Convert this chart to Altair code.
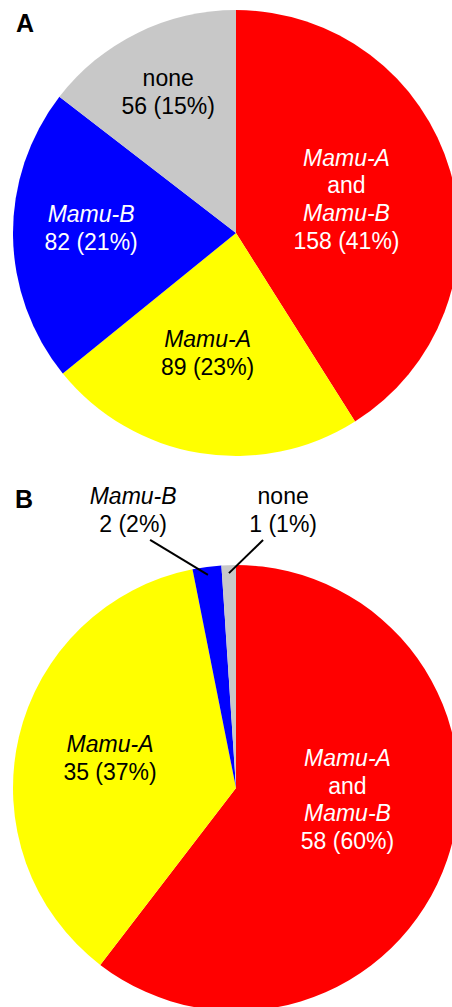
import math

import altair as alt
import pandas as pd

# Response groups, in the order the slices run clockwise from 12 o'clock
groups = ["Mamu-A and Mamu-B", "Mamu-A", "Mamu-B", "none"]
colors = ["#ff0000", "#ffff00", "#0000ff", "#c8c8c8"]

# Panel A
a_counts = [158, 89, 82, 56]
a_pcts = [41, 23, 21, 15]

# Panel B
b_counts = [58, 35, 2, 1]
b_pcts = [60, 37, 2, 1]

# Label wording: (text, font style) for each line above the count line
name_lines = {
    "Mamu-A and Mamu-B": [("Mamu-A", "italic"), ("and", "normal"), ("Mamu-B", "italic")],
    "Mamu-A": [("Mamu-A", "italic")],
    "Mamu-B": [("Mamu-B", "italic")],
    "none": [("none", "normal")],
}

# ---- layout -------------------------------------------------------------
W, H = 452, 1007
CX = 236
R = 223
FONT = "Liberation Sans"
SIZE = 23
LINE = 27.7
CAP_HALF = 8.2

panels = {
    "A": dict(
        counts=a_counts, pcts=a_pcts, cy=233, letter=(16, 32),
        label_r=[115.6, 123, 145, 156.5],
        label_turn=[-1, 4, 2.7, 0.5],
        label_color=["white", "black", "white", "black"],
        leaders={},
    ),
    "B": dict(
        counts=b_counts, pcts=b_pcts, cy=788, letter=(15, 508),
        label_r=[112, 129.5, 296.5, 282],
        label_turn=[-13, 0.3, -12.8, 11.5],
        label_color=["white", "black", "black", "black"],
        # slice index -> (inner radius, outer radius, outer angle turn)
        leaders={2: (215, 262.5, -11.6), 3: (215, 249.5, 8.1)},
    ),
}


def polar(cy, r, deg):
    a = math.radians(deg)
    return CX + r * math.sin(a), cy - r * math.cos(a)


slice_rows, text_rows, rule_rows, letter_rows = [], [], [], []
for pname, p in panels.items():
    counts = p["counts"]
    total = sum(counts)
    cum = 0
    for i, (g, c, pct, col) in enumerate(zip(groups, counts, p["pcts"], colors)):
        slice_rows.append(dict(panel=pname, group=g, count=c, color=col, order=i))
        mid = 360.0 * (cum + c / 2) / total
        cum += c
        ax, ay = polar(p["cy"], p["label_r"][i], mid + p["label_turn"][i])
        lines = name_lines[g] + [(f"{c} ({pct}%)", "normal")]
        n = len(lines)
        for k, (txt, style) in enumerate(lines):
            text_rows.append(dict(
                x=ax, y=ay + (k - (n - 1) / 2) * LINE + CAP_HALF,
                text=txt, style=style, color=p["label_color"][i],
            ))
        if i in p["leaders"]:
            r_in, r_out, turn = p["leaders"][i]
            x1, y1 = polar(p["cy"], r_in, mid)
            x2, y2 = polar(p["cy"], r_out, mid + turn)
            rule_rows.append(dict(x=x1, y=y1, x2=x2, y2=y2))
    letter_rows.append(dict(x=p["letter"][0], y=p["letter"][1], text=pname))

slices = pd.DataFrame(slice_rows)
texts = pd.DataFrame(text_rows)
rules = pd.DataFrame(rule_rows)
letters = pd.DataFrame(letter_rows)


def pie(pname):
    return (
        alt.Chart(slices[slices.panel == pname])
        .mark_arc(outerRadius=R)
        .encode(
            theta=alt.Theta("count:Q", stack=True),
            color=alt.Color("color:N", scale=None),
            order=alt.Order("order:Q"),
            x=alt.value(CX),
            y=alt.value(panels[pname]["cy"]),
        )
    )


px = alt.X("x:Q", scale=None, axis=None)
py = alt.Y("y:Q", scale=None, axis=None)

leader_layer = alt.Chart(rules).mark_rule(color="black", strokeWidth=2).encode(
    x=px, y=py, x2="x2:Q", y2="y2:Q"
)


def label_layer(style):
    return (
        alt.Chart(texts[texts["style"] == style])
        .mark_text(font=FONT, fontSize=SIZE, fontStyle=style,
                   align="center", baseline="alphabetic")
        .encode(x=px, y=py, text="text:N", color=alt.Color("color:N", scale=None))
    )


letter_layer = alt.Chart(letters).mark_text(
    font=FONT, fontSize=25, fontWeight="bold", align="left",
    baseline="alphabetic", color="black",
).encode(x=px, y=py, text="text:N")

chart = (
    alt.layer(pie("A"), pie("B"), leader_layer,
              label_layer("normal"), label_layer("italic"), letter_layer)
    .resolve_scale(theta="independent")
    .properties(width=W, height=H, autosize="none", padding=0,
                background="white")
    .configure_view(stroke=None)
)

chart.save("out.html", embed_options={"renderer": "svg", "actions": False})
